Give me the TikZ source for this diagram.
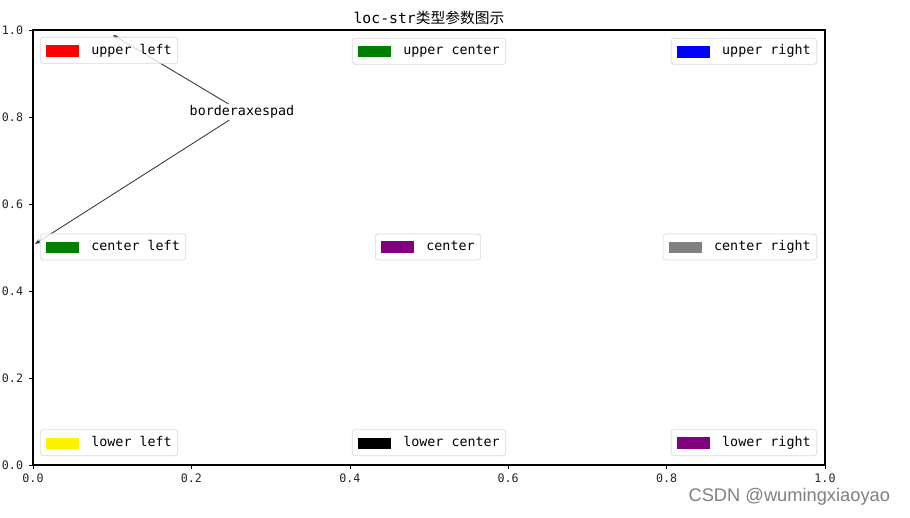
\documentclass[tikz,border=0pt]{standalone}
\usepackage{fontspec}
\setmonofont{DejaVu Sans Mono}
\setsansfont{Liberation Sans}
\newfontfamily\cjk{Noto Sans CJK SC}
\usetikzlibrary{arrows.meta}
\definecolor{mplgreen}{RGB}{0,128,0}
\definecolor{mplpurple}{RGB}{128,0,128}
\definecolor{mplgray}{RGB}{128,128,128}
\definecolor{legedge}{RGB}{218,218,218}
\newcommand{\legpatch}[1]{\textcolor{#1}{\rule[-1.9pt]{0.825cm}{8.2pt}}\hspace{0.3cm}}

\begin{document}
\begin{tikzpicture}[x=0.025cm,y=-0.025cm]
\tikzstyle{leg}=[draw=legedge,line width=0.5pt,rounded corners=2pt,fill=white,fill opacity=0.8,text opacity=1,inner xsep=0.15cm,minimum height=0.65cm,font=\ttfamily\fontsize{9.5}{11}\selectfont];
\tikzstyle{tick}=[font=\ttfamily\fontsize{8.3}{9}\selectfont,text=black!85];
\tikzstyle{note}=[-{Stealth[length=4pt,width=3pt]},black!80,line width=0.6pt];
\useasboundingbox (0,0) rectangle (910,518);

\node[font=\fontsize{10.5}{12}\selectfont] (title) at (429,18) {\ttfamily loc-str\cjk 类型参数图示};

% axes
\draw[line width=1pt] (33,30) rectangle (825,465);
\foreach \v [count=\i from 0] in {0.0,0.2,0.4,0.6,0.8,1.0} {
  \draw (33+158.4*\i,465) -- ++(0,4);
  \node[tick,anchor=north] (xt\i) at (33+158.4*\i,469) {\v};
  \draw (33,465-87*\i) -- ++(-4,0);
  \node[tick,anchor=east] (yt\i) at (28,465-87*\i) {\v};
}

% annotation
\node[font=\ttfamily\fontsize{9.5}{11}\selectfont,inner sep=1pt] (bap) at (242,112) {borderaxespad};
\coordinate (ulpt) at (113,35);
\coordinate (clpt) at (35,244);
\draw[note] (bap) -- (ulpt);
\draw[note] (bap) -- (clpt);

% legends
\node[leg,anchor=north west] (ul) at (40,37) {\legpatch{red}upper left};
\node[leg,anchor=north] (uc) at (429,38) {\legpatch{mplgreen}upper center};
\node[leg,anchor=north east] (ur) at (817,38) {\legpatch{blue}upper right};

\node[leg,anchor=west] (cl) at (40,247) {\legpatch{mplgreen}center left};
\node[leg] (cc) at (428,247) {\legpatch{mplpurple}center};
\node[leg,anchor=east] (cr) at (817,247) {\legpatch{mplgray}center right};

\node[leg,anchor=south west] (ll) at (40,456) {\legpatch{yellow}lower left};
\node[leg,anchor=south] (lc) at (429,456) {\legpatch{black}lower center};
\node[leg,anchor=south east] (lr) at (817,456) {\legpatch{mplpurple}lower right};

\node[font=\sffamily\fontsize{13}{15}\selectfont,text=black!50,anchor=east] (mark) at (895,497) {CSDN @wumingxiaoyao};
\end{tikzpicture}
\end{document}
